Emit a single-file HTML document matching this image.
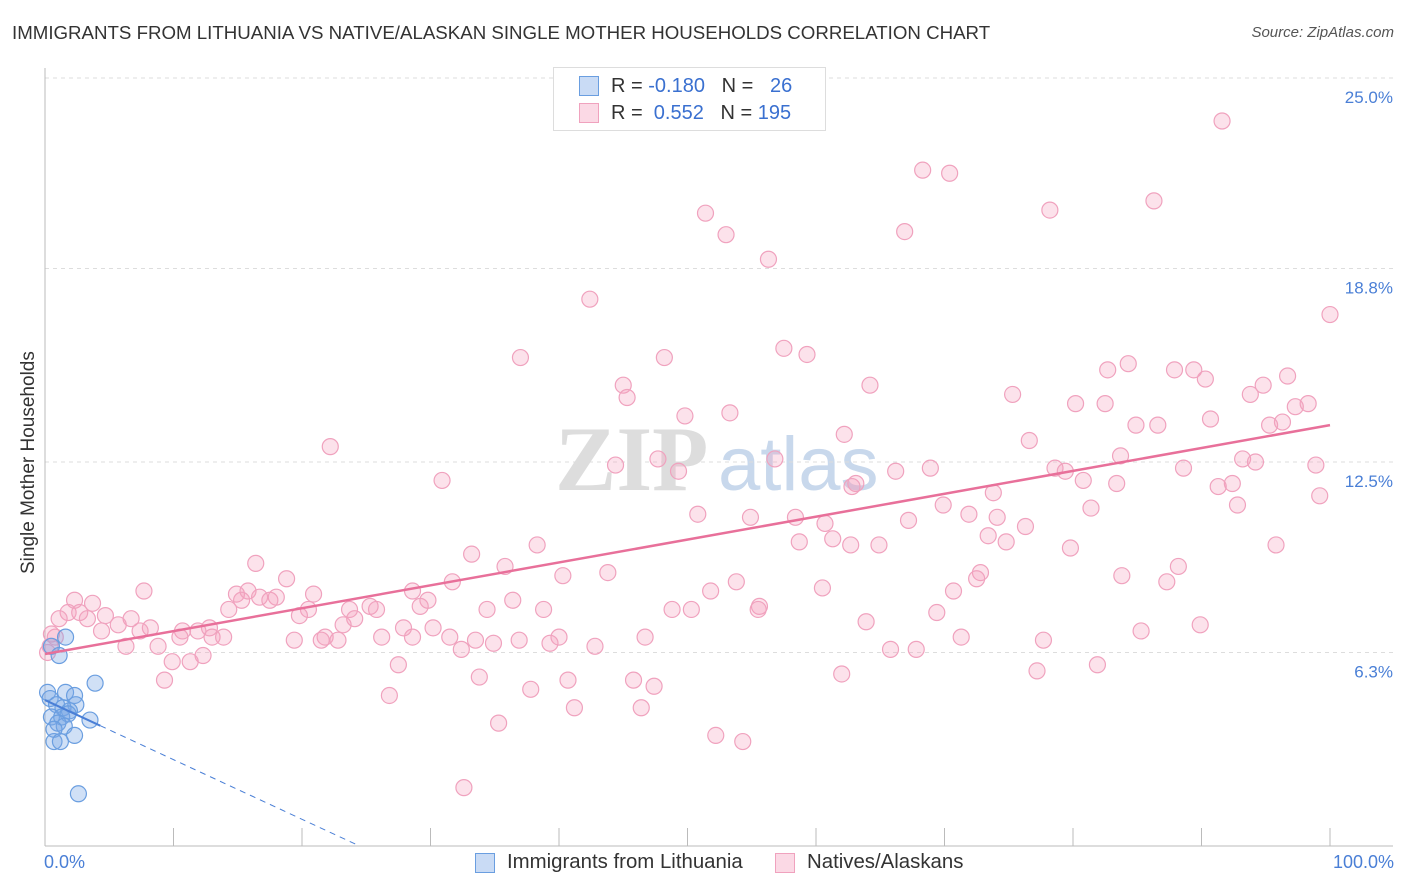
<!DOCTYPE html>
<html><head><meta charset="utf-8"><style>
body{margin:0;background:#fff;font-family:"Liberation Sans",sans-serif;}
#wrap{position:relative;width:1406px;height:892px;overflow:hidden;}
.t{position:absolute;white-space:nowrap;}
</style></head><body>
<div id="wrap">
<div class="t" style="left:12px;top:22px;font-size:18.7px;color:#333;">IMMIGRANTS FROM LITHUANIA VS NATIVE/ALASKAN SINGLE MOTHER HOUSEHOLDS CORRELATION CHART</div>
<div class="t" style="right:12px;top:24px;font-size:15px;color:#555;font-style:italic;">Source: ZipAtlas.com</div>
<svg id="svg" width="1406" height="892" style="position:absolute;left:0;top:0"></svg>
</div>
<script>
const yTicks=[25.0,18.8,12.5,6.3];
const yTickLabels=["25.0%","18.8%","12.5%","6.3%"];
const blueX=[1.6,0.5,1.1,3.9,0.2,1.6,2.3,0.4,0.9,2.4,1.4,1.9,0.5,1.3,1.8,3.5,1.0,1.5,0.7,2.3,0.7,1.2,2.6];
const blueY=[6.8,6.5,6.2,5.3,5.0,5.0,4.9,4.8,4.6,4.6,4.5,4.4,4.2,4.2,4.3,4.1,4.0,3.9,3.8,3.6,3.4,3.4,1.7];
const pinkX=[91.6,68.3,70.4,86.3,51.4,78.2,53.0,66.9,56.3,42.4,100,57.5,59.3,37.0,48.2,84.3,82.7,87.9,89.4,90.3,96.7,45.0,64.2,94.8,45.3,75.3,93.8,80.2,82.5,97.3,98.3,49.8,53.3,90.7,96.3,95.3,84.9,86.6,62.2,22.2,76.6,47.7,56.8,83.7,93.2,94.2,98.9,44.4,49.3,66.2,68.9,78.6,79.4,88.6,30.9,63.1,80.8,83.4,92.4,91.3,62.8,73.8,99.2,69.9,92.8,81.4,50.8,54.9,58.4,67.2,71.9,74.1,60.7,76.3,73.4,61.3,58.7,64.9,62.7,74.8,79.8,95.8,38.3,33.2,35.8,16.4,40.3,43.8,72.8,72.5,83.8,88.2,87.3,18.8,31.7,53.8,60.5,51.8,7.7,70.7,28.6,14.9,15.8,16.7,18.0,20.9,15.3,17.5,29.8,36.4,2.3,3.7,25.3,25.8,29.2,14.3,20.5,34.4,38.8,48.8,50.3,55.6,55.5,69.4,1.8,2.7,4.7,23.7,19.8,1.1,6.7,3.3,24.1,5.7,8.2,23.2,63.9,89.9,12.8,27.9,30.2,4.4,7.4,10.7,11.9,13.0,13.9,21.8,28.6,85.3,10.5,26.2,31.5,40.0,46.7,71.3,77.7,19.4,21.5,22.8,33.5,34.9,36.9,39.3,42.8,6.3,8.8,32.4,65.8,67.8,12.3,9.9,11.3,27.5,81.9,77.2,62.0,9.3,33.8,40.7,45.8,47.4,37.8,26.8,41.2,46.4,35.3,52.2,54.3,32.6,0.4,0.8,0.5,0.2];
const pinkY=[23.6,22.0,21.9,21.0,20.6,20.7,19.9,20.0,19.1,17.8,17.3,16.2,16.0,15.9,15.9,15.7,15.5,15.5,15.5,15.2,15.3,15.0,15.0,15.0,14.6,14.7,14.7,14.4,14.4,14.3,14.4,14.0,14.1,13.9,13.8,13.7,13.7,13.7,13.4,13.0,13.2,12.6,12.6,12.7,12.6,12.5,12.4,12.4,12.2,12.2,12.3,12.3,12.2,12.3,11.9,11.8,11.9,11.8,11.8,11.7,11.7,11.5,11.4,11.1,11.1,11.0,10.8,10.7,10.7,10.6,10.8,10.7,10.5,10.4,10.1,10.0,9.9,9.8,9.8,9.9,9.7,9.8,9.8,9.5,9.1,9.2,8.8,8.9,8.9,8.7,8.8,9.1,8.6,8.7,8.6,8.6,8.4,8.3,8.3,8.3,8.3,8.2,8.3,8.1,8.1,8.2,8.0,8.0,8.0,8.0,8.0,7.9,7.8,7.7,7.8,7.7,7.7,7.7,7.7,7.7,7.7,7.8,7.7,7.6,7.6,7.6,7.5,7.7,7.5,7.4,7.4,7.4,7.4,7.2,7.1,7.2,7.3,7.2,7.1,7.1,7.1,7.0,7.0,7.0,7.0,6.8,6.8,6.8,6.8,7.0,6.8,6.8,6.8,6.8,6.8,6.8,6.7,6.7,6.7,6.7,6.7,6.6,6.7,6.6,6.5,6.5,6.5,6.4,6.4,6.4,6.2,6.0,6.0,5.9,5.9,5.7,5.6,5.4,5.5,5.4,5.4,5.2,5.1,4.9,4.5,4.5,4.0,3.6,3.4,1.9,6.5,6.8,6.9,6.3];
const pinkTrend=[6.25,13.7];
const blueTrend=[4.75,-0.194];
const X0=45,X1=1330,YB=846,YPX=30.72;
const xs=v=>X0+v*(X1-X0)/100, ys=v=>YB-v*YPX;
const svg=document.getElementById('svg');const NS='http://www.w3.org/2000/svg';
function mk(tag,at,parent){const e=document.createElementNS(NS,tag);for(const k in at)e.setAttribute(k,at[k]);(parent||svg).appendChild(e);return e;}
let w=mk('text',{x:555,y:490,'font-size':92,'font-family':'Liberation Serif,serif',fill:'#ddd','font-weight':'bold'});w.textContent='ZIP';

let w2=mk('text',{x:718,y:490,'font-size':76,'font-family':'Liberation Sans,sans-serif',fill:'#c8d8ec'});w2.textContent='atlas';

yTicks.forEach((t,i)=>{let g=mk('line',{x1:45,x2:1393,y1:ys(t),y2:ys(t),stroke:'#ddd','stroke-dasharray':'4,4'});

let l=mk('text',{x:1393,y:ys(t)+25,'text-anchor':'end','font-size':17,fill:'#4a7fd6'});l.textContent=yTickLabels[i];
});
mk('line',{x1:45,x2:45,y1:68,y2:846,stroke:'#bbb'});
mk('line',{x1:45,x2:1393,y1:846,y2:846,stroke:'#bbb'});
for(let i=1;i<=10;i++){let tk=mk('line',{x1:xs(i*10),x2:xs(i*10),y1:828,y2:846,stroke:'#bbb'});}
pinkX.forEach((v,i)=>{let c=mk('circle',{cx:xs(v),cy:ys(pinkY[i]),r:8,fill:'rgba(244,160,190,0.3)',stroke:'#f0a2be','stroke-width':1.2});
});
blueX.forEach((v,i)=>{let c=mk('circle',{cx:xs(v),cy:ys(blueY[i]),r:8,fill:'rgba(120,165,230,0.35)',stroke:'#6a9ee0','stroke-width':1.2});
});
let pt=mk('line',{x1:xs(0),y1:ys(pinkTrend[0]),x2:xs(100),y2:ys(pinkTrend[1]),stroke:'#e8709a','stroke-width':2.5});

const bz=-blueTrend[0]/blueTrend[1];
let bt=mk('line',{x1:xs(0),y1:ys(blueTrend[0]),x2:xs(4.3),y2:ys(blueTrend[0]+blueTrend[1]*4.3),stroke:'#4a7fd6','stroke-width':2});

let bd=mk('line',{x1:xs(4.3),y1:ys(blueTrend[0]+blueTrend[1]*4.3),x2:xs(bz),y2:ys(0),stroke:'#4a7fd6','stroke-width':1,'stroke-dasharray':'6,5'});

</script>
<div class="t" style="left:18px;top:574px;transform:rotate(-90deg);transform-origin:0 0;font-size:19px;color:#333;">Single Mother Households</div>
<div class="t" style="left:44px;top:852px;font-size:18px;color:#4a7fd6;">0.0%</div>
<div class="t" style="right:12px;top:852px;font-size:18px;color:#4a7fd6;">100.0%</div>
<div style="position:absolute;left:553px;top:67px;width:271px;height:62px;border:1px solid #ddd;background:#fff;font-size:20px;color:#333;">
<div class="t" style="left:25px;top:8px;width:20px;height:20px;background:rgba(120,165,230,0.4);border:1px solid #6a9ee0;box-sizing:border-box;"></div>
<div class="t" style="left:57px;top:7px;">R = <span style="color:#3a70d0">-0.180</span>&nbsp;&nbsp;&nbsp;N = &nbsp;&nbsp;<span style="color:#3a70d0">26</span></div>
<div class="t" style="left:25px;top:35px;width:20px;height:20px;background:rgba(244,160,190,0.4);border:1px solid #f0a2be;box-sizing:border-box;"></div>
<div class="t" style="left:57px;top:34px;">R = &nbsp;<span style="color:#3a70d0">0.552</span>&nbsp;&nbsp;&nbsp;N = <span style="color:#3a70d0">195</span></div>
</div>
<div class="t" style="left:475px;top:853px;width:20px;height:20px;background:rgba(120,165,230,0.4);border:1px solid #6a9ee0;box-sizing:border-box;"></div>
<div class="t" style="left:507px;top:851px;font-size:20.4px;color:#333;">Immigrants from Lithuania</div>
<div class="t" style="left:775px;top:853px;width:20px;height:20px;background:rgba(244,160,190,0.4);border:1px solid #f0a2be;box-sizing:border-box;"></div>
<div class="t" style="left:807px;top:851px;font-size:20.4px;color:#333;">Natives/Alaskans</div>
</body></html>
